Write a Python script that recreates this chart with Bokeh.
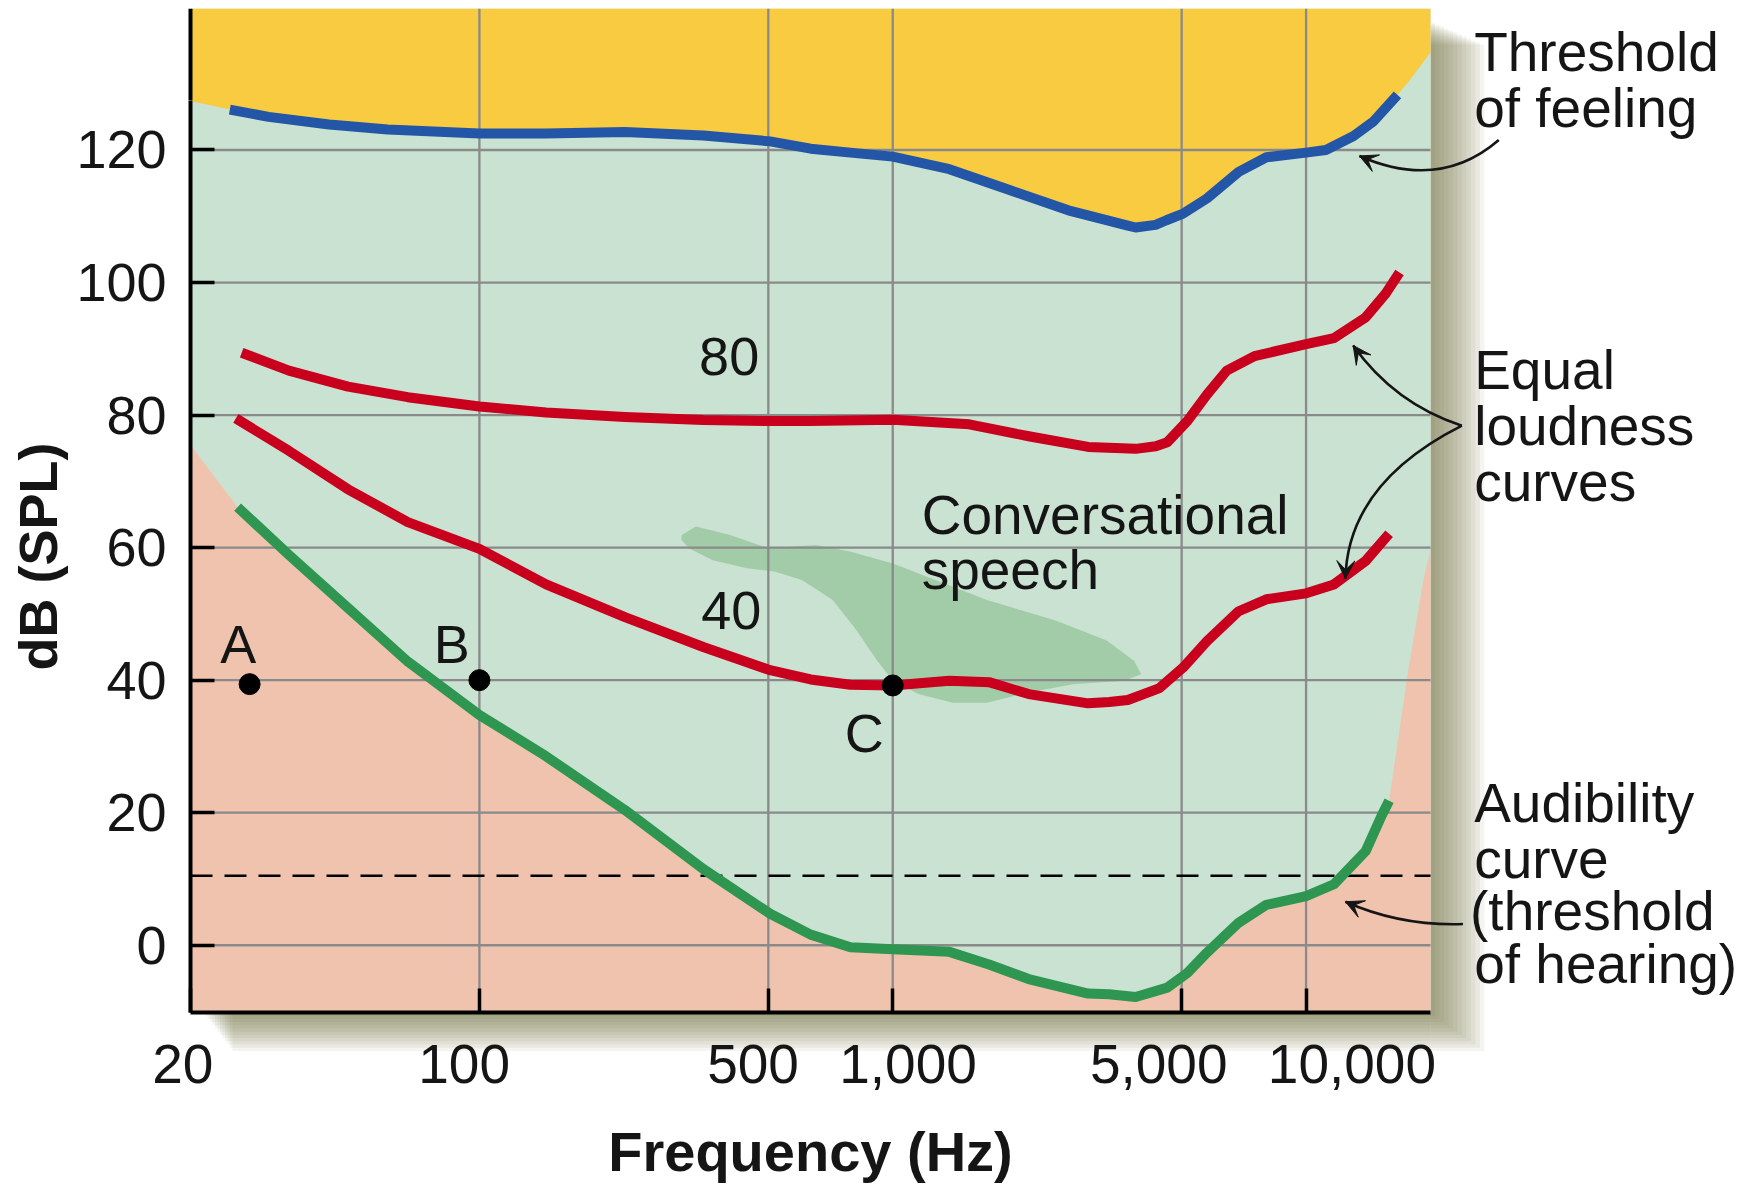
import numpy as np
from bokeh.plotting import figure
from bokeh.models import (Range1d, FixedTicker, Arrow, VeeHead, BoxAnnotation,
                          ColumnDataSource)
from bokeh.core.properties import value
from bokeh.embed import file_html
from bokeh.resources import INLINE

# ---------------- data ----------------
x_ticks = [20, 100, 500, 1000, 5000, 10000]
x_tick_labels = ["20", "100", "500", "1,000", "5,000", "10,000"]
y_ticks = [0, 20, 40, 60, 80, 100, 120]
x_grid = [100, 500, 1000, 5000, 10000]
y_grid = [0, 20, 40, 60, 80, 100, 120]

# threshold of feeling (blue)
feeling_hz = [24.9, 30.9, 43.3, 60, 100, 145, 225, 348, 505, 633, 790, 1000, 1371, 1909,
              2659, 3705, 3870, 4322, 4593, 5040, 5759, 6870, 8016, 10000, 11170, 13030,
              14550, 16640]
feeling_db = [126.1, 125.0, 123.85, 123.1, 122.5, 122.5, 122.7, 122.2, 121.3, 120.2, 119.6,
              119.0, 117.1, 114.0, 110.9, 108.6, 108.3, 108.7, 109.4, 110.4, 112.7, 116.7,
              118.9, 119.6, 120.0, 122.1, 124.3, 128.3]
feeling_left_db = 127.4
feeling_right_hz = [17750, 20000]
feeling_right_db = [130.4, 134.7]

# equal loudness 80 (red)
loud80_hz = [26.6, 34.6, 48.1, 67.1, 100, 145, 225, 348, 505, 633, 1000, 1531, 2132, 2969,
             3869, 4330, 4615, 5161, 5759, 6428, 7502, 10000, 11680, 13940, 15570, 16830]
loud80_db = [89.4, 86.7, 84.3, 82.7, 81.3, 80.4, 79.7, 79.25, 79.1, 79.1, 79.3, 78.6, 76.8,
             75.2, 74.9, 75.3, 75.9, 79.1, 83.1, 86.7, 88.9, 90.7, 91.6, 94.75, 98.3, 101.5]

# equal loudness 40 (red)
loud40_hz = [25.75, 34.6, 48.1, 67.1, 100, 145, 225, 348, 505, 633, 790, 1000, 1371, 1710,
             2132, 2969, 3340, 3705, 4420, 5040, 5759, 6870, 8016, 10000, 11680, 13940,
             15880]
loud40_db = [79.5, 74.6, 68.8, 63.85, 59.8, 54.45, 49.5, 45.0, 41.5, 40.1, 39.3, 39.2, 39.9,
             39.7, 37.9, 36.5, 36.7, 37.0, 38.8, 41.9, 45.9, 50.4, 52.2, 53.1, 54.45, 58.0,
             62.1]

# audibility curve (green)
hearing_hz = [26.0, 34.6, 48.1, 67.1, 100, 145, 225, 348, 505, 633, 790, 1000, 1371, 1710,
              2132, 2969, 3336, 3869, 4615, 5161, 5759, 6870, 8016, 10000, 11680, 13940,
              15220, 15880]
hearing_db = [66.1, 58.9, 50.9, 42.8, 34.75, 28.5, 20.4, 11.5, 4.75, 1.6, -0.3, -0.6, -1.0,
              -2.9, -5.1, -7.3, -7.4, -7.8, -6.4, -4.2, -1.1, 3.4, 6.1, 7.4, 9.2, 14.2,
              19.5, 21.8]
hearing_left_db = 75.5
hearing_right_hz = [17650, 19230, 20000]
hearing_right_db = [41.3, 55.2, 59.5]

# conversational speech region
speech_hz = [309, 334, 404, 500, 651, 788, 1000, 1269, 1690, 2476, 3294, 3840, 3990, 3630,
             2723, 2047, 1690, 1397, 1154, 1000, 918, 818, 716, 603, 518, 444, 367, 321, 308]
speech_db = [61.9, 63.2, 61.9, 59.9, 60.4, 59.4, 57.6, 55.1, 52.1, 49.0, 46.0, 42.9, 40.9,
             39.9, 39.4, 37.9, 36.6, 36.6, 37.9, 39.9, 42.9, 47.5, 52.1, 55.1, 56.4, 56.9,
             58.1, 59.9, 61.2]

# marked tones A, B, C
pt_names = ["A", "B", "C"]
pt_hz = [27.8, 100, 1000]
pt_db = [39.4, 40.0, 39.2]

ref_db = 10.5   # dashed reference level

# ---------------- layout ----------------
X_MIN, X_MAX = 20, 20000          # chart area (Hz)
Y_BOT, Y_TOP = -10.15, 141.35     # chart area (dB)
LEFT = 190                         # room left of the chart for the y-axis texts
TOP = 8
PLOT_PX = 1240
PLOT_H = 1004
RIGHT = 1753 - LEFT - PLOT_PX      # room right of the chart for the notes
BELOW = 174                        # room under the chart for the x-axis texts
PX_DEC = PLOT_PX / np.log10(X_MAX / X_MIN)
PX_DB = PLOT_H / (Y_TOP - Y_BOT)
x_start = X_MIN / 10 ** (LEFT / PX_DEC)
x_end = X_MAX * 10 ** (RIGHT / PX_DEC)
y_start = Y_BOT - BELOW / PX_DB
Y_LABEL_TOP = 127.5                # y-axis title is centred on [Y_BOT, Y_LABEL_TOP]

YELLOW = "#f8cb40"
GREEN_BG = "#c9e2d1"
PINK = "#f0c3ae"
SPEECH = "#a2cca8"
BLUE = "#2456a8"
RED = "#c8001e"
GREEN = "#2e9650"
GRID = "#8a8a8a"
TXT = "#151515"
FONT = "Liberation Sans"
NB = "\u00a0"

p = figure(width=1753, height=TOP + PLOT_H + BELOW, x_axis_type="log",
           x_range=Range1d(x_start, x_end), y_range=Range1d(y_start, Y_TOP),
           output_backend="svg", toolbar_location=None,
           min_border_left=0, min_border_right=0, min_border_top=TOP,
           min_border_bottom=0)
p.outline_line_color = None
p.background_fill_color = "white"
p.border_fill_color = "white"
p.xgrid.visible = False
p.ygrid.visible = False

# drop shadow right of and below the chart
SH = "#6e6b3c"
for k in range(1, 13):
    p.add_layout(BoxAnnotation(left=X_MAX, right=X_MAX * 10 ** (4.5 * k / PX_DEC),
                               top=Y_TOP - (12 + 2 * k) / PX_DB,
                               bottom=Y_BOT - 3.2 * k / PX_DB,
                               fill_color=SH, fill_alpha=0.075, line_color=None,
                               level="underlay"))
    p.add_layout(BoxAnnotation(left=X_MIN * 10 ** ((12 + 2.5 * k) / PX_DEC), right=X_MAX,
                               top=Y_BOT, bottom=Y_BOT - 3.2 * k / PX_DB,
                               fill_color=SH, fill_alpha=0.075, line_color=None,
                               level="underlay"))

# background regions
p.quad(left=[X_MIN], right=[X_MAX], bottom=[Y_BOT], top=[Y_TOP],
       fill_color=GREEN_BG, line_color=None)
yx = [X_MIN] + feeling_hz + feeling_right_hz + [X_MAX, X_MIN]
yy = [feeling_left_db] + feeling_db + feeling_right_db + [Y_TOP, Y_TOP]
p.patch(yx, yy, fill_color=YELLOW, line_color=None)
px_ = [X_MIN] + hearing_hz + hearing_right_hz + [X_MAX, X_MIN]
py_ = [hearing_left_db] + hearing_db + hearing_right_db + [Y_BOT, Y_BOT]
p.patch(px_, py_, fill_color=PINK, line_color=None)
p.patch(speech_hz, speech_db, fill_color=SPEECH, line_color=None)

# grid lines (only inside the chart area)
p.segment(x0=x_grid, y0=[Y_BOT] * len(x_grid), x1=x_grid, y1=[Y_TOP] * len(x_grid),
          line_color=GRID, line_width=2.3)
p.segment(x0=[X_MIN] * len(y_grid), y0=y_grid, x1=[X_MAX] * len(y_grid), y1=y_grid,
          line_color=GRID, line_width=2.3)
p.line([X_MIN, X_MAX], [ref_db, ref_db], line_color="black", line_width=2.5,
       line_dash="22 12")

# curves
for xs, ys, c in ((feeling_hz, feeling_db, BLUE), (loud80_hz, loud80_db, RED),
                  (loud40_hz, loud40_db, RED), (hearing_hz, hearing_db, GREEN)):
    p.line(xs, ys, line_color=c, line_width=10, line_join="round")
p.scatter(pt_hz, pt_db, size=21, color="black")

# text inside the chart
inner = ColumnDataSource(dict(
    x=[402, 407, 26.1, 85.7, 853],
    y=[88.8, 50.5, 45.5, 45.5, 32.0],
    t=["80", "40"] + pt_names))
p.text(x="x", y="y", text="t", source=inner, text_font=value(FONT),
       text_font_size="54px", text_align="center", text_baseline="middle",
       text_color=TXT)
p.text(x=[1175, 1175], y=[64.9, 56.6], text=["Conversational", "speech"],
       text_font=value(FONT), text_font_size="55px", text_align="left",
       text_baseline="middle", text_color=TXT)

# annotations right of the chart
side = ColumnDataSource(dict(
    x=[25510, 25510, 25510, 25510, 25510, 25510, 25510, 24930, 25510],
    y=[134.8, 126.4, 86.8, 78.4, 69.9, 21.4, 13.0, 5.1, -2.9],
    t=["Threshold", "of feeling", "Equal", "loudness", "curves", "Audibility",
       "curve", "(threshold", "of hearing)"]))
p.text(x="x", y="y", text="t", source=side, text_font=value(FONT),
       text_font_size="55px", text_align="left", text_baseline="middle",
       text_color=TXT)

arrows = [  # start, control, tip  (Hz, dB)
    (29260, 121.5, 21070, 113.8, 13460, 119.1),
    (23820, 78.4, 16380, 81.7, 13000, 90.5),
    (23820, 78.4, 12610, 69.7, 12450, 55.3),
    (23970, 3.2, 16950, 2.87, 12450, 6.57),
]
for (x0, y0, cx, cy, x1, y1) in arrows:
    p.quadratic(x0=[x0], y0=[y0], cx=[cx], cy=[cy], x1=[x1], y1=[y1],
                line_color=TXT, line_width=2.6)
    p.add_layout(Arrow(end=VeeHead(size=18, fill_color=TXT, line_color=TXT, line_width=1),
                       x_start=cx, y_start=cy, x_end=x1, y_end=y1, line_alpha=0.0))

# axes (placed on the chart edges)
# label nudges (leading, trailing no-break spaces) as placed in the original
pads = {20: (0, 1), 100: (0, 2), 500: (0, 2), 1000: (2, 0), 5000: (0, 3), 10000: (6, 0)}
xa = p.xaxis[0]
xa.ticker = FixedTicker(ticks=x_ticks)
xa.major_label_overrides = {
    t: NB * pads.get(t, (0, 0))[0] + s + NB * pads.get(t, (0, 0))[1]
    for t, s in zip(x_ticks, x_tick_labels)}
xa.bounds = (X_MIN, X_MAX)
xa.fixed_location = Y_BOT
ya = p.yaxis[0]
ya.ticker = FixedTicker(ticks=y_ticks)
ya.bounds = (Y_BOT, Y_LABEL_TOP)
ya.fixed_location = X_MIN
for ax in (xa, ya):
    ax.major_tick_in = 24
    ax.major_tick_out = 0
    ax.minor_tick_in = 0
    ax.minor_tick_out = 0
    ax.axis_line_width = 4
    ax.axis_line_color = "black"
    ax.major_tick_line_width = 3.5
    ax.major_tick_line_color = "black"
    ax.major_label_text_font = FONT
    ax.major_label_text_color = TXT
    ax.axis_label_text_font = FONT
    ax.axis_label_text_font_style = "bold"
    ax.axis_label_text_color = TXT
xa.major_label_text_font_size = "55px"
ya.major_label_text_font_size = "54px"
xa.major_label_standoff = 20
xa.axis_label = "Frequency (Hz)"
xa.axis_label_text_font_size = "56px"
xa.axis_label_standoff = 22
ya.major_label_standoff = 24
ya.axis_label = "dB (SPL)"
ya.axis_label_text_font_size = "54px"
ya.axis_label_standoff = 5
# rest of the y-axis line above the title's centring span
p.segment(x0=[X_MIN], y0=[Y_LABEL_TOP], x1=[X_MIN], y1=[Y_TOP], line_color="black",
          line_width=4)

open("out.html", "w").write(file_html(p, INLINE))
